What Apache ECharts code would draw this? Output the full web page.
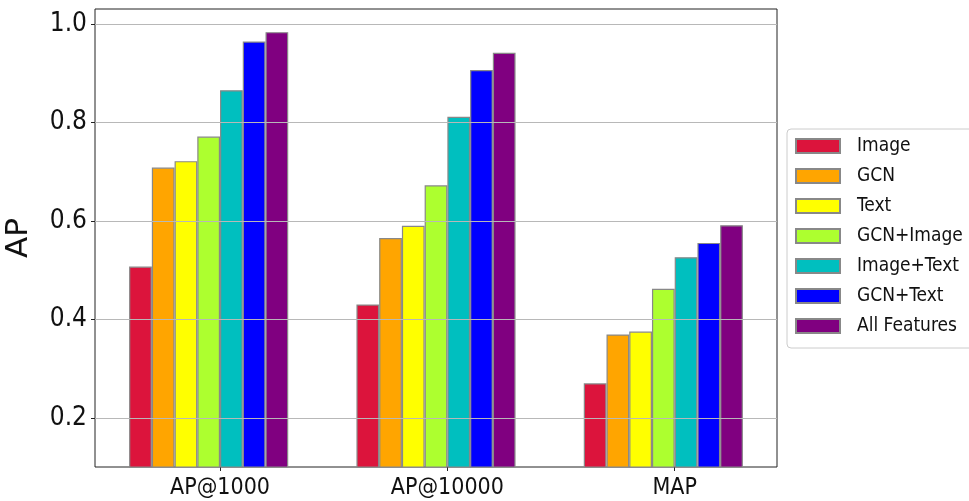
<!DOCTYPE html>
<html>
<head>
<meta charset="utf-8">
<script src="https://cdn.jsdelivr.net/npm/echarts@6/dist/echarts.min.js"></script>
<style>
  html, body { margin: 0; padding: 0; background: #fff; }
  #chart { width: 969px; height: 501px; }
</style>
</head>
<body>
<div id="chart"></div>
<script>
// Metric groups along the x axis
const categories = ['AP@1000', 'AP@10000', 'MAP'];

// Feature sets, one bar per metric group
const seriesNames = ['Image', 'GCN', 'Text', 'GCN+Image', 'Image+Text', 'GCN+Text', 'All Features'];
const image       = [0.507, 0.430, 0.270];
const gcn         = [0.708, 0.565, 0.369];
const text        = [0.721, 0.590, 0.375];
const gcnImage    = [0.771, 0.672, 0.462];
const imageText   = [0.865, 0.811, 0.526];
const gcnText     = [0.964, 0.906, 0.555];
const allFeatures = [0.983, 0.941, 0.591];

// y tick labels
const yTicks = [0.2, 0.4, 0.6, 0.8, 1.0];

const seriesValues = [image, gcn, text, gcnImage, imageText, gcnText, allFeatures];
const colors = ['#DC143C', '#FFA500', '#FFFF00', '#ADFF2F', '#00BFBF', '#0000FF', '#800080'];

const FONT = "'DejaVu Sans Condensed', 'DejaVu Sans', sans-serif";
const CATEGORY_GAP = 0.3;                       // share of a band left empty
const halfBar = (1 - CATEGORY_GAP) / seriesNames.length / 2;
// metric ticks sit at the left edge of the middle-right bar of each group
const xTickPos = categories.map((_, i) => i + halfBar);

const chart = echarts.init(document.getElementById('chart'), null, { renderer: 'canvas' });

chart.setOption({
  animation: false,
  backgroundColor: '#ffffff',
  grid: {
    left: 95, right: 192, top: 9, bottom: 34,
    outerBoundsMode: 'none',
    containLabel: false,
    show: true, borderColor: '#222', borderWidth: 1, backgroundColor: 'transparent'
  },
  legend: {
    orient: 'vertical',
    left: 787, top: 129,
    data: seriesNames,
    icon: 'rect',
    itemWidth: 44, itemHeight: 14, itemGap: 10,
    padding: [7, 12, 12, 8],
    backgroundColor: '#fff',
    borderColor: '#cccccc', borderWidth: 1, borderRadius: 4,
    textStyle: { fontFamily: FONT, fontSize: 19, color: '#111', lineHeight: 20, padding: [0, 0, 0, 12] }
  },
  xAxis: [
    {
      type: 'category',
      data: categories,
      boundaryGap: true,
      axisLine: { show: false, onZero: false },
      axisTick: { show: false },
      axisLabel: { show: false },
      splitLine: { show: false }
    },
    {
      type: 'value',
      min: -0.5, max: 2.5,
      position: 'bottom',
      axisLine: { show: false, onZero: false },
      splitLine: { show: false },
      axisTick: { show: true, customValues: xTickPos, length: 4, lineStyle: { color: '#222', width: 1 } },
      axisLabel: {
        customValues: xTickPos,
        formatter: v => categories[Math.round(v)] || '',
        margin: 10,
        fontFamily: FONT, fontSize: 23, color: '#111'
      }
    }
  ],
  yAxis: {
    type: 'value',
    min: 0.1, max: 1.03,
    position: 'left',
    z: 5,
    name: 'AP',
    nameLocation: 'middle',
    nameGap: 61,
    nameRotate: 90,
    nameTextStyle: { fontFamily: "'DejaVu Sans', sans-serif", fontSize: 31, color: '#111' },
    axisLine: { show: false, onZero: false },
    axisTick: { show: true, customValues: yTicks, length: 4, lineStyle: { color: '#222', width: 1 } },
    axisLabel: {
      customValues: yTicks,
      formatter: v => v.toFixed(1),
      margin: 8,
      fontFamily: FONT, fontSize: 26, color: '#111'
    },
    splitLine: { show: true, lineStyle: { color: '#b8b8b8', width: 1.2 } }
  },
  series: seriesNames.map((name, k) => ({
    name,
    type: 'bar',
    xAxisIndex: 0,
    data: seriesValues[k],
    barGap: '0%',
    barCategoryGap: (CATEGORY_GAP * 100) + '%',
    itemStyle: { color: colors[k], borderColor: '#888888', borderWidth: 1.2 }
  }))
});
</script>
</body>
</html>
